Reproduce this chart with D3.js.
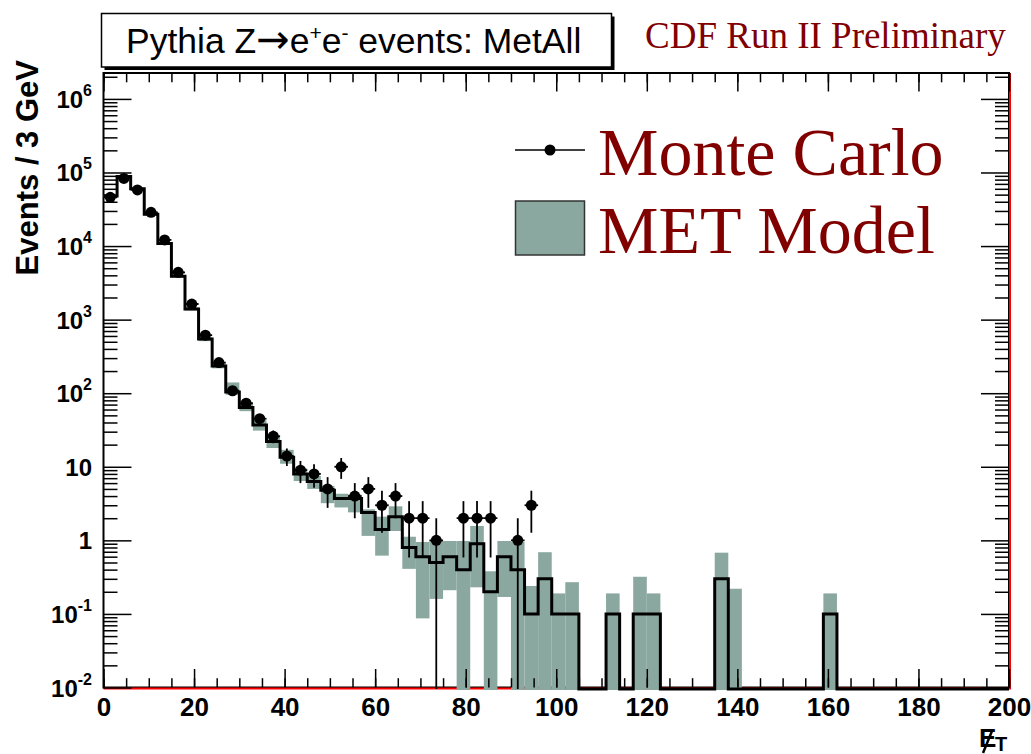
<!DOCTYPE html>
<html>
<head>
<meta charset="utf-8">
<script src="https://cdn.jsdelivr.net/npm/d3@7"></script>
<style>
  html, body { margin: 0; padding: 0; background: #fff; }
  svg { display: block; }
</style>
</head>
<body>
<svg id="chart" width="1031" height="754"></svg>
<script>
// Missing-ET spectrum, 3 GeV bins starting at 0 GeV.
const binWidth = 3;

// Monte Carlo event counts per bin (bin i covers [3i, 3i+3) GeV).
const mcCounts = [46000, 83000, 58000, 28700, 12100, 4400, 1630, 615, 261, 108,
                  73, 45, 26, 14, 9, 8, 5, 10, 4, 5,
                  3, 4, 2, 2, 1, 0, 2, 2, 2, 0,
                  1, 3];

// MET model prediction per bin (central value, drawn as a step line).
const modelValues = [48000, 88000, 60000, 27000, 10800, 3900, 1400, 545, 235, 104,
                     64, 37, 22, 13.5, 8, 6.3, 4.8, 3.7, 3.7, 2.4,
                     1.4, 2.1, 0.8, 0.6, 0.5, 0.6, 0.4, 0.9, 0.2, 0.6,
                     0.4, 0.1, 0.3, 0.1, 0.1, 0, 0, 0.1, 0, 0.1,
                     0.1, 0, 0, 0, 0, 0.3, 0, 0, 0, 0,
                     0, 0, 0, 0.1, 0, 0, 0, 0, 0, 0,
                     0, 0, 0, 0, 0, 0, 0];

// MET model uncertainty band per bin (lower / upper edge, 0 = reaches axis).
const bandLow  = [46000, 85000, 58000, 26000, 10400, 3750, 1330, 510, 218, 95,
                  57, 31, 18, 11, 6.4, 5.0, 3.2, 2.8, 2.4, 1.15,
                  0.62, 1.34, 0.41, 0.087, 0.16, 0.21, 0, 0.23, 0, 0.17,
                  0, 0, 0, 0, 0, 0, 0, 0, 0, 0,
                  0, 0, 0, 0, 0, 0, 0, 0, 0, 0,
                  0, 0, 0, 0];
const bandHigh = [50000, 91000, 62000, 28000, 11200, 4050, 1470, 580, 255, 140,
                  72, 43, 26, 17, 9.5, 7.5, 5.5, 4.3, 4.2, 2.64,
                  2.1, 2.9, 1.12, 0.95, 1.0, 0.98, 0.98, 1.57, 0.38, 0.98,
                  0.95, 0.24, 0.69, 0.19, 0.27, 0, 0, 0.19, 0, 0.32,
                  0.19, 0, 0, 0, 0, 0.68, 0.22, 0, 0, 0,
                  0, 0, 0, 0.19];

// Axis ticks and labels
const xMajorTicks = [0, 20, 40, 60, 80, 100, 120, 140, 160, 180, 200];
const xMinorTicks = d3.range(0, 201, 5);
const yDecades = [1e-2, 1e-1, 1, 10, 1e2, 1e3, 1e4, 1e5, 1e6];
const yDecadeLabels = [["10", "-2"], ["10", "-1"], ["1", ""], ["10", ""], ["10", "2"],
                       ["10", "3"], ["10", "4"], ["10", "5"], ["10", "6"]];
const yMinorTicks = [];
yDecades.forEach(d => { for (let k = 2; k <= 9; k++) if (d * k < 2.25e6) yMinorTicks.push(d * k); });

const bandColor = "#8aa89f";
const darkRed = "#800000";

const plot = { left: 103.5, right: 1009, top: 73, bottom: 687.5 };
const zeroY = plot.bottom + 1.5;

const x = d3.scaleLinear().domain([0, 200]).range([plot.left, plot.right]);
const y = d3.scaleLog().domain([0.01, 2.25e6]).range([plot.bottom, plot.top]).clamp(true);
const yv = v => (v > 0 ? y(v) : zeroY);

const svg = d3.select("#chart");

svg.append("defs").append("clipPath").attr("id", "plotClip")
  .append("rect")
  .attr("x", plot.left).attr("y", plot.top)
  .attr("width", plot.right - plot.left).attr("height", plot.bottom - plot.top + 4);

// Frame
svg.append("rect")
  .attr("x", plot.left).attr("y", plot.top)
  .attr("width", plot.right - plot.left).attr("height", plot.bottom - plot.top)
  .attr("fill", "none").attr("stroke", "#000").attr("stroke-width", 2);

// Red outline along the bottom and right edge
svg.append("path")
  .attr("d", `M${plot.left},${plot.bottom + 1} H${plot.right + 1} V${plot.top}`)
  .attr("fill", "none").attr("stroke", "#ff0000").attr("stroke-width", 2);

const gPlot = svg.append("g").attr("clip-path", "url(#plotClip)");

// Model uncertainty band
const bandBins = bandHigh.map((h, i) => ({ i, lo: bandLow[i], hi: h })).filter(d => d.hi > 0);
gPlot.selectAll("rect.band").data(bandBins).enter().append("rect")
  .attr("class", "band")
  .attr("x", d => x(d.i * binWidth))
  .attr("width", d => x((d.i + 1) * binWidth) - x(d.i * binWidth))
  .attr("y", d => yv(d.hi))
  .attr("height", d => (d.lo > 0 ? yv(d.lo) : zeroY + 1) - yv(d.hi))
  .attr("fill", bandColor);

// Model step line
const stepPts = modelValues.map((v, i) => [i * binWidth, v]);
stepPts.push([modelValues.length * binWidth, modelValues[modelValues.length - 1]]);
const stepLine = d3.line()
  .x(d => x(d[0]))
  .y(d => yv(d[1]))
  .curve(d3.curveStepAfter);
gPlot.append("path")
  .attr("d", stepLine(stepPts))
  .attr("fill", "none").attr("stroke", "#000").attr("stroke-width", 3)
  .attr("stroke-linejoin", "miter");

// Monte Carlo points with sqrt(N) errors
const mcPts = mcCounts.map((c, i) => ({ i, c })).filter(d => d.c > 0);
const gPts = gPlot.append("g");
gPts.selectAll("line.ey").data(mcPts).enter().append("line")
  .attr("x1", d => x(d.i * binWidth + binWidth / 2))
  .attr("x2", d => x(d.i * binWidth + binWidth / 2))
  .attr("y1", d => yv(d.c + Math.sqrt(d.c)))
  .attr("y2", d => yv(d.c - Math.sqrt(d.c)))
  .attr("stroke", "#000").attr("stroke-width", 1.8);
gPts.selectAll("line.ex").data(mcPts).enter().append("line")
  .attr("x1", d => x(d.i * binWidth))
  .attr("x2", d => x((d.i + 1) * binWidth))
  .attr("y1", d => y(d.c))
  .attr("y2", d => y(d.c))
  .attr("stroke", "#000").attr("stroke-width", 1.8);
gPts.selectAll("circle").data(mcPts).enter().append("circle")
  .attr("cx", d => x(d.i * binWidth + binWidth / 2))
  .attr("cy", d => y(d.c))
  .attr("r", 5.5)
  .attr("fill", "#000");

// Axes (ticks drawn inward, as on a ROOT frame)
function styleAxis(g) {
  g.select(".domain").remove();
  g.selectAll(".tick line").attr("stroke", "#000").attr("stroke-width", 1.5);
  g.attr("font-family", null).attr("font-size", null);
}

svg.append("g").attr("transform", `translate(0,${plot.bottom})`)
  .call(d3.axisBottom(x).tickValues(xMinorTicks).tickSize(-9.3).tickFormat(""))
  .call(styleAxis);
const gxMajor = svg.append("g").attr("transform", `translate(0,${plot.bottom})`)
  .call(d3.axisBottom(x).tickValues(xMajorTicks).tickSize(-18.5).tickPadding(10).tickFormat(d3.format("d")))
  .call(styleAxis);
gxMajor.selectAll("text")
  .attr("fill", "#000")
  .style("font-family", "'Liberation Sans', Arial, sans-serif")
  .style("font-weight", "bold").style("font-size", "26px");

svg.append("g").attr("transform", `translate(0,${plot.top})`)
  .call(d3.axisTop(x).tickValues(xMinorTicks).tickSize(-9.3).tickFormat(""))
  .call(styleAxis);
svg.append("g").attr("transform", `translate(0,${plot.top})`)
  .call(d3.axisTop(x).tickValues(xMajorTicks).tickSize(-18.5).tickFormat(""))
  .call(styleAxis);

svg.append("g").attr("transform", `translate(${plot.left},0)`)
  .call(d3.axisLeft(y).tickValues(yMinorTicks).tickSize(-14).tickFormat(""))
  .call(styleAxis);
const gyMajor = svg.append("g").attr("transform", `translate(${plot.left},0)`)
  .call(d3.axisLeft(y).tickValues(yDecades).tickSize(-28).tickPadding(11.5))
  .call(styleAxis);
gyMajor.selectAll(".tick text").each(function (d) {
  const t = d3.select(this);
  const lab = yDecadeLabels[yDecades.indexOf(d)];
  t.text(null)
    .attr("fill", "#000")
    .attr("dy", null)
    .attr("y", 8.5)
    .style("font-family", "'Liberation Sans', Arial, sans-serif")
    .style("font-weight", "bold").style("font-size", "24px");
  t.append("tspan").text(lab[0]);
  if (lab[1]) {
    t.append("tspan").text(lab[1]).attr("dy", -12).style("font-size", "16px");
  }
});

svg.append("g").attr("transform", `translate(${plot.right},0)`)
  .call(d3.axisRight(y).tickValues(yMinorTicks).tickSize(-14).tickFormat(""))
  .call(styleAxis);
svg.append("g").attr("transform", `translate(${plot.right},0)`)
  .call(d3.axisRight(y).tickValues(yDecades).tickSize(-28).tickFormat(""))
  .call(styleAxis);

// Axis titles
svg.append("text")
  .attr("transform", "translate(38,60) rotate(-90)")
  .attr("text-anchor", "end")
  .style("font-family", "'Liberation Sans', Arial, sans-serif")
  .style("font-weight", "bold").style("font-size", "31px")
  .text("Events / 3 GeV");

const xTitle = svg.append("g")
  .style("font-family", "'Liberation Sans', Arial, sans-serif")
  .style("font-weight", "bold");
xTitle.append("text").attr("x", 979).attr("y", 747).style("font-size", "26px").text("E");
xTitle.append("text").attr("x", 995).attr("y", 751).style("font-size", "20px").text("T");
xTitle.append("line")
  .attr("x1", 983).attr("y1", 753).attr("x2", 992).attr("y2", 731)
  .attr("stroke", "#000").attr("stroke-width", 2.5);

// Title box with shadow
svg.append("rect").attr("x", 104.5).attr("y", 16.5).attr("width", 510).attr("height", 53.5).attr("fill", "#000");
svg.append("rect").attr("x", 101.5).attr("y", 13.5).attr("width", 510).attr("height", 53.5)
  .attr("fill", "#fff").attr("stroke", "#000").attr("stroke-width", 1.5);
const title = svg.append("text").attr("x", 126).attr("y", 53)
  .style("font-family", "'Liberation Sans', Arial, sans-serif").style("font-size", "35.5px");
title.append("tspan").text("Pythia Z");
title.append("tspan").text("\u2192").style("font-family", "'DejaVu Sans', sans-serif").style("font-size", "40px");
title.append("tspan").text("e");
title.append("tspan").text("+").attr("dy", -13).style("font-size", "21px");
title.append("tspan").text("e").attr("dy", 13);
title.append("tspan").text("-").attr("dy", -13).style("font-size", "21px");
title.append("tspan").text(" events: MetAll").attr("dy", 13);

svg.append("text").attr("x", 645).attr("y", 48)
  .style("font-family", "'Liberation Serif', 'Times New Roman', serif").style("font-size", "37px")
  .attr("fill", darkRed)
  .text("CDF Run II Preliminary");

// Legend
const legend = svg.append("g");
legend.append("line").attr("x1", 515).attr("x2", 585).attr("y1", 150).attr("y2", 150)
  .attr("stroke", "#000").attr("stroke-width", 1.5);
legend.append("circle").attr("cx", 550).attr("cy", 150).attr("r", 5.5).attr("fill", "#000");
legend.append("rect").attr("x", 515.5).attr("y", 201).attr("width", 69).attr("height", 54)
  .attr("fill", bandColor).attr("stroke", "#333").attr("stroke-width", 1.5);
legend.append("text").attr("x", 598).attr("y", 175)
  .style("font-family", "'Liberation Serif', 'Times New Roman', serif").style("font-size", "68px")
  .attr("fill", darkRed).text("Monte Carlo");
legend.append("text").attr("x", 598).attr("y", 253)
  .style("font-family", "'Liberation Serif', 'Times New Roman', serif").style("font-size", "68px")
  .attr("fill", darkRed).text("MET Model");
</script>
</body>
</html>
